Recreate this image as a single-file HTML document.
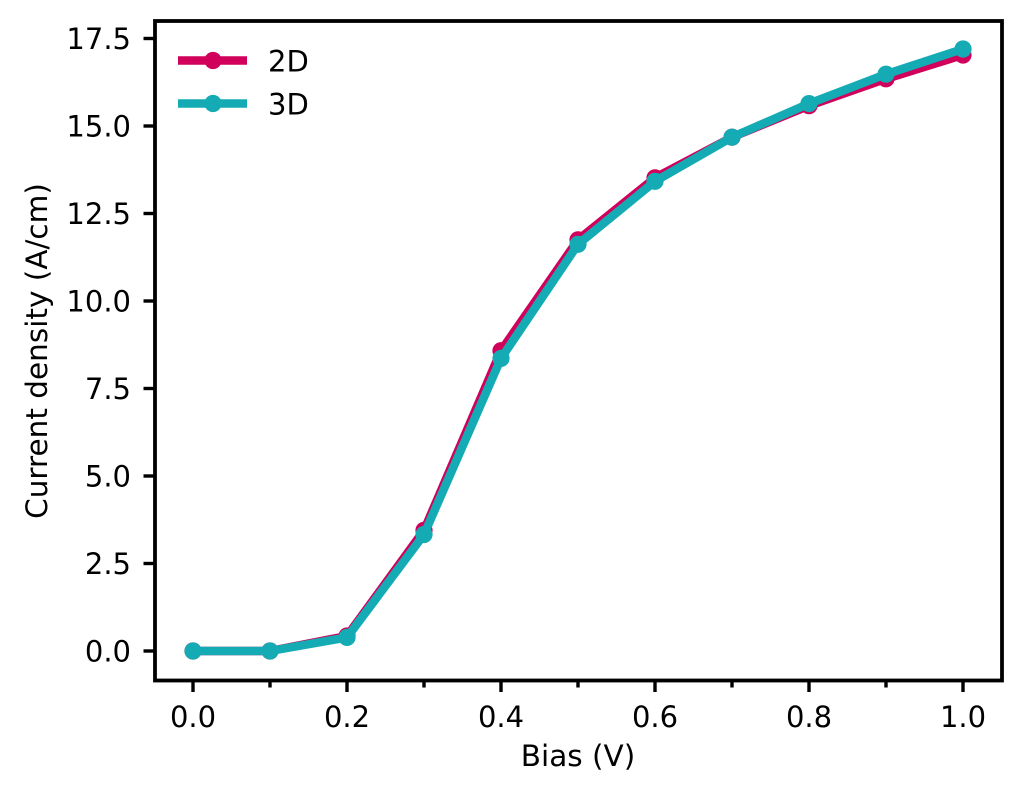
<!DOCTYPE html>
<html><head><meta charset="utf-8"><style>
html,body{margin:0;padding:0;background:#fff;}
svg{display:block;}
text{font-family:"DejaVu Sans","Liberation Sans",sans-serif;fill:#000;}
</style></head><body>
<svg width="1024" height="795" viewBox="0 0 1024 795" xmlns="http://www.w3.org/2000/svg">
<rect width="1024" height="795" fill="#fff"/>
<!-- series 2D -->
<g>
<polyline fill="none" stroke="#d1005a" stroke-width="8.5" stroke-linejoin="round" stroke-linecap="butt"
 points="193,651 270,651 347,636 424,530.3 501,350.7 578,239.8 655,177.8 732,137.2 809,105.7 886,78.8 963,55"/>
<g fill="#d1005a">
<circle cx="193" cy="651" r="8.6"/><circle cx="270" cy="651" r="8.6"/><circle cx="347" cy="636" r="8.6"/>
<circle cx="424" cy="530.3" r="8.6"/><circle cx="501" cy="350.7" r="8.6"/><circle cx="578" cy="239.8" r="8.6"/>
<circle cx="655" cy="177.8" r="8.6"/><circle cx="732" cy="137.2" r="8.6"/><circle cx="809" cy="105.7" r="8.6"/>
<circle cx="886" cy="78.8" r="8.6"/><circle cx="963" cy="55" r="8.6"/>
</g>
</g>
<!-- series 3D -->
<g>
<polyline fill="none" stroke="#15abb4" stroke-width="8.5" stroke-linejoin="round" stroke-linecap="butt"
 points="193,651 270,651 347,637.4 424,534.5 501,358.4 578,244.3 655,181.3 732,137.2 809,103.6 886,74.2 963,49"/>
<g fill="#15abb4">
<circle cx="193" cy="651" r="8.6"/><circle cx="270" cy="651" r="8.6"/><circle cx="347" cy="637.4" r="8.6"/>
<circle cx="424" cy="534.5" r="8.6"/><circle cx="501" cy="358.4" r="8.6"/><circle cx="578" cy="244.3" r="8.6"/>
<circle cx="655" cy="181.3" r="8.6"/><circle cx="732" cy="137.2" r="8.6"/><circle cx="809" cy="103.6" r="8.6"/>
<circle cx="886" cy="74.2" r="8.6"/><circle cx="963" cy="49" r="8.6"/>
</g>
</g>
<!-- spines -->
<rect x="155" y="21" width="847" height="659.5" fill="none" stroke="#000" stroke-width="3.8"/>
<!-- x ticks -->
<g stroke="#000" stroke-width="3.4">
<line x1="193" y1="680.5" x2="193" y2="692"/>
<line x1="347" y1="680.5" x2="347" y2="692"/>
<line x1="501" y1="680.5" x2="501" y2="692"/>
<line x1="655" y1="680.5" x2="655" y2="692"/>
<line x1="809" y1="680.5" x2="809" y2="692"/>
<line x1="963" y1="680.5" x2="963" y2="692"/>
<line x1="270" y1="680.5" x2="270" y2="687.5"/>
<line x1="424" y1="680.5" x2="424" y2="687.5"/>
<line x1="578" y1="680.5" x2="578" y2="687.5"/>
<line x1="732" y1="680.5" x2="732" y2="687.5"/>
<line x1="886" y1="680.5" x2="886" y2="687.5"/>
</g>
<g font-size="29" text-anchor="middle">
<text x="193" y="727">0.0</text>
<text x="347" y="727">0.2</text>
<text x="501" y="727">0.4</text>
<text x="655" y="727">0.6</text>
<text x="809" y="727">0.8</text>
<text x="963" y="727">1.0</text>
</g>
<!-- y ticks -->
<g stroke="#000" stroke-width="3.4">
<line x1="143.5" y1="651" x2="155" y2="651"/>
<line x1="143.5" y1="563.5" x2="155" y2="563.5"/>
<line x1="143.5" y1="476" x2="155" y2="476"/>
<line x1="143.5" y1="388.5" x2="155" y2="388.5"/>
<line x1="143.5" y1="301" x2="155" y2="301"/>
<line x1="143.5" y1="213.5" x2="155" y2="213.5"/>
<line x1="143.5" y1="126" x2="155" y2="126"/>
<line x1="143.5" y1="38.5" x2="155" y2="38.5"/>
</g>
<g font-size="29" text-anchor="end">
<text x="131" y="661.5">0.0</text>
<text x="131" y="574">2.5</text>
<text x="131" y="486.5">5.0</text>
<text x="131" y="399">7.5</text>
<text x="131" y="311.5">10.0</text>
<text x="131" y="224">12.5</text>
<text x="131" y="136.5">15.0</text>
<text x="131" y="49">17.5</text>
</g>
<!-- axis labels -->
<text x="578" y="766" font-size="29.5" text-anchor="middle">Bias (V)</text>
<text transform="translate(47,351) rotate(-90)" font-size="29.5" text-anchor="middle">Current density (A/cm)</text>
<!-- legend -->
<line x1="178" y1="60.5" x2="247" y2="60.5" stroke="#d1005a" stroke-width="8.5"/>
<circle cx="213" cy="60.5" r="8.6" fill="#d1005a"/>
<text x="268" y="71.5" font-size="29">2D</text>
<line x1="178" y1="103.5" x2="247" y2="103.5" stroke="#15abb4" stroke-width="8.5"/>
<circle cx="213" cy="103.5" r="8.6" fill="#15abb4"/>
<text x="268" y="114.5" font-size="29">3D</text>
</svg>
</body></html>
